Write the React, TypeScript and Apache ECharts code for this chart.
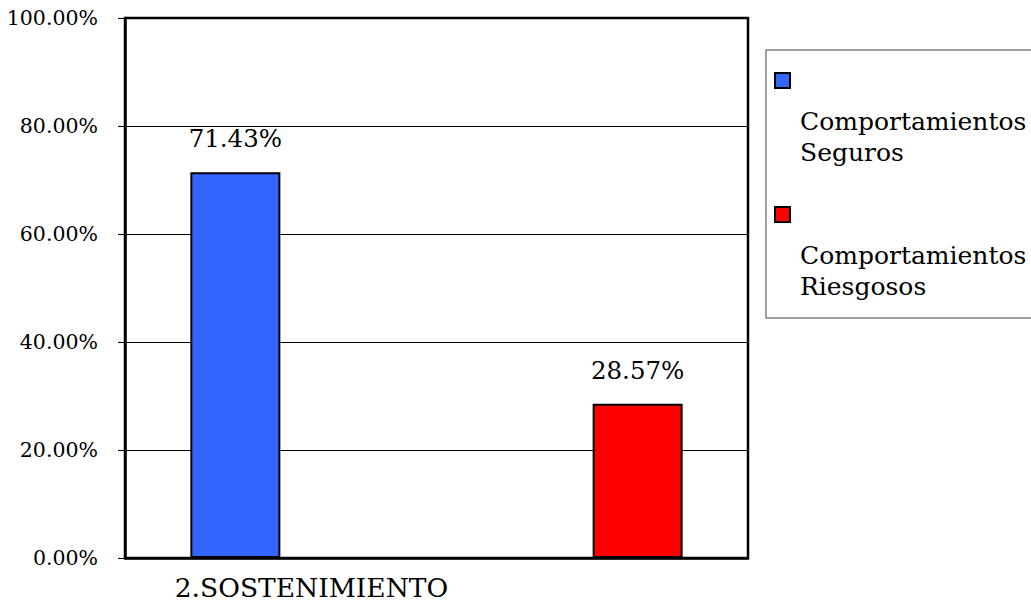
import React, { useEffect, useRef } from "react";
import * as echarts from "echarts";

const categories = ["2.SOSTENIMIENTO"];
const seriesNames = ["Comportamientos Seguros", "Comportamientos Riesgosos"];
const segurosValues = [0.7143];
const riesgososValues = [0.2857];
const seriesColors = ["#3366FF", "#FF0000"];

const FONT = "DejaVu Serif";
const pct = (v: number) => (v * 100).toFixed(2) + "%";

export default function App() {
  const ref = useRef<HTMLDivElement>(null);

  useEffect(() => {
    if (!ref.current) return;
    const chart = echarts.init(ref.current, undefined, { renderer: "svg" });

    const seriesData = [segurosValues, riesgososValues];

    const legendGraphics: any[] = [
      {
        type: "rect",
        shape: { x: 766, y: 50, width: 300, height: 268 },
        style: { fill: "#fff", stroke: "#808080", lineWidth: 1.5 },
        z: 10,
      },
    ];
    seriesNames.forEach((name, i) => {
      const top = 73 + i * 134;
      legendGraphics.push({
        type: "rect",
        shape: { x: 775, y: top, width: 15, height: 15 },
        style: { fill: seriesColors[i], stroke: "#000", lineWidth: 2 },
        z: 11,
      });
      legendGraphics.push({
        type: "text",
        x: 800,
        y: top + 33,
        style: {
          text: name.split(" ").join("\n"),
          fontFamily: FONT,
          fontSize: 25,
          lineHeight: 31,
          fill: "#000",
          verticalAlign: "top",
          align: "left",
        },
        z: 11,
      });
    });

    chart.setOption({
      animation: false,
      backgroundColor: "#fff",
      textStyle: { fontFamily: FONT },
      grid: {
        left: 125,
        top: 18,
        right: 283,
        bottom: 45,
        show: true,
        borderColor: "#000",
        borderWidth: 2.5,
      },
      xAxis: {
        type: "category",
        data: categories,
        axisLine: { show: true, lineStyle: { color: "#000", width: 2.5 } },
        axisTick: { show: false },
        axisLabel: {
          color: "#000",
          fontFamily: FONT,
          fontSize: 26.5,
          margin: 16,
          padding: [0, 250, 0, 0],
        },
      },
      yAxis: {
        type: "value",
        min: 0,
        max: 1,
        interval: 0.2,
        axisLine: { show: true, lineStyle: { color: "#000", width: 2.5 } },
        axisTick: { show: true, length: 7, lineStyle: { color: "#000", width: 1 } },
        splitLine: { show: true, lineStyle: { color: "#000", width: 1 } },
        axisLabel: {
          color: "#000",
          fontFamily: FONT,
          fontSize: 20.5,
          margin: 27,
          formatter: (v: number) => pct(v),
        },
      },
      series: seriesNames.map((name, i) => ({
        name,
        type: "bar",
        data: seriesData[i],
        barWidth: 90,
        barGap: "347%",
        itemStyle: { color: seriesColors[i], borderColor: "#000", borderWidth: 2 },
        label: {
          show: true,
          position: "top",
          distance: 21,
          color: "#000",
          fontFamily: FONT,
          fontSize: 24.5,
          formatter: (p: any) => pct(p.value),
        },
      })),
      graphic: legendGraphics,
    });

    return () => chart.dispose();
  }, []);

  return (
    <div
      ref={ref}
      style={{ position: "fixed", left: 0, top: 0, width: 1031, height: 603, background: "#fff" }}
    />
  );
}
